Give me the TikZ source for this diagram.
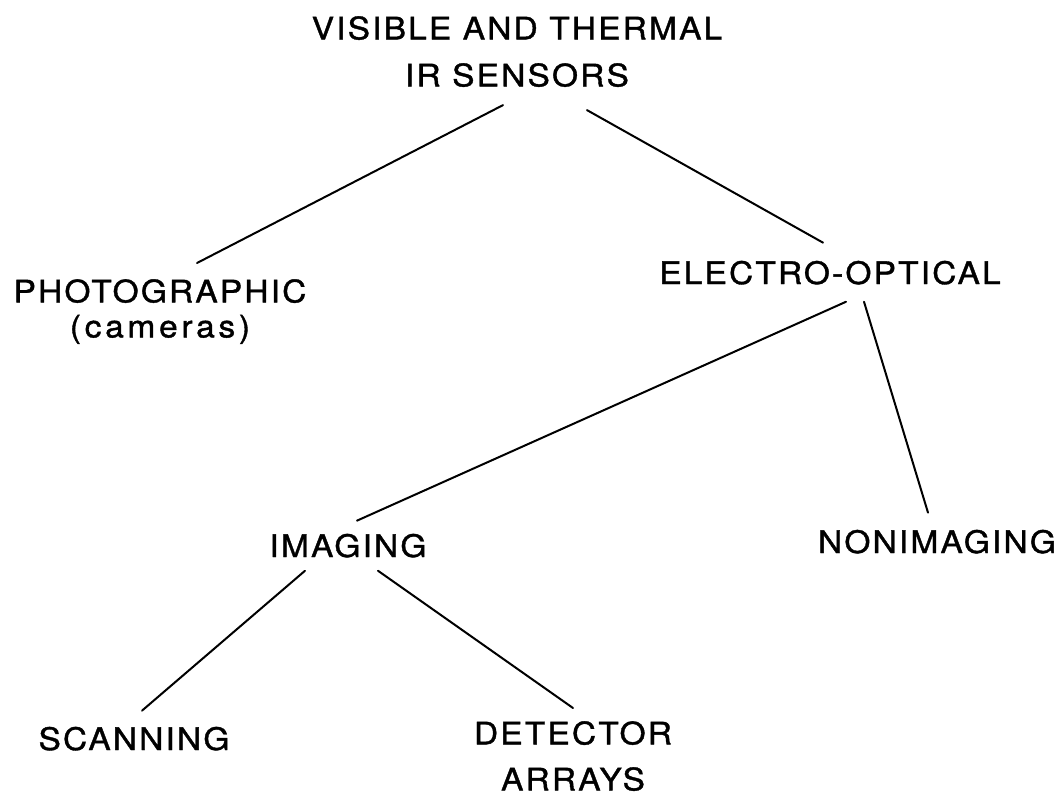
\documentclass[tikz,border=0pt]{standalone}
\usepackage{fontspec}
\newfontfamily\lblfont[LetterSpace=7,FakeStretch=1.08,FakeBold=1.2]{TeX Gyre Heros}
\usetikzlibrary{calc}
\begin{document}
\begin{tikzpicture}[x=1pt,y=-1pt,
  lbl/.style={inner sep=0pt, align=center, font=\lblfont\fontsize{31}{47}\selectfont},
  link/.style={line width=2pt, line cap=round}]
\useasboundingbox[fill=white] (0,0) rectangle (1060,796);

% labels of the sensor tree
\node[lbl, anchor=north] (top) at (517,16) {VISIBLE AND THERMAL\\IR SENSORS};
\node[lbl, anchor=north, font=\lblfont\fontsize{31}{35}\selectfont] (photo) at (160,279)
  {PHOTOGRAPHIC\\{\addfontfeature{LetterSpace=12}(cameras)}};
\node[lbl, anchor=base] (eo) at (830,284) {ELECTRO-OPTICAL};
\node[lbl, anchor=base] (img) at (348,557) {IMAGING};
\node[lbl, anchor=base] (non) at (937,553) {NONIMAGING};
\node[lbl, anchor=base] (scan) at (134,750) {SCANNING};
\node[lbl, anchor=north, font=\lblfont\fontsize{31}{46}\selectfont] (det) at (573,721) {DETECTOR\\ARRAYS};

% branches
\draw[link] ($(top.south)+(-14,18)$) -- ($(photo.north)+(37,-16)$);
\draw[link] ($(top.south)+(70,23)$) -- ($(eo.north)+(-7,-18)$);
\draw[link] ($(eo.south)+(16,17)$) -- ($(img.north)+(9,-13)$);
\draw[link] ($(eo.south)+(34,17)$) -- ($(non.north)+(-9,-17)$);
\draw[link] ($(img.south)+(-43,13)$) -- ($(scan.north)+(8,-16)$);
\draw[link] ($(img.south)+(30,13)$) -- ($(det.north)+(0,-13)$);
\end{tikzpicture}
\end{document}
